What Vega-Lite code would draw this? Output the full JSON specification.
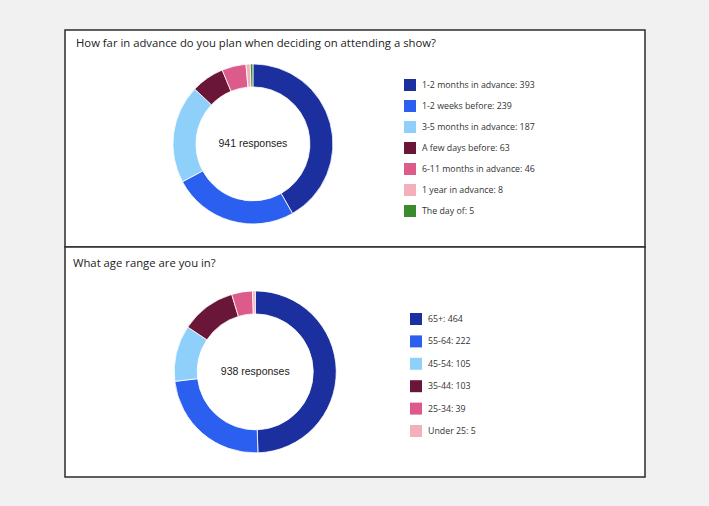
{
  "$schema": "https://vega.github.io/schema/vega-lite/v6.json",
  "background": "#f1f1f1",
  "padding": {"left": 64, "top": 29, "right": 65, "bottom": 30},
  "spacing": 0,
  "bounds": "flush",
  "resolve": {
    "scale": {"color": "independent", "x": "independent", "y": "independent"},
    "legend": {"color": "independent"}
  },
  "config": {
    "view": {"fill": "white", "stroke": "#2b2b2b", "strokeWidth": 1.5},
    "title": {
      "font": "Open Sans",
      "fontSize": 11.3,
      "fontWeight": "normal",
      "color": "#222222",
      "anchor": "start",
      "frame": "group",
      "baseline": "alphabetic"
    },
    "legend": {
      "orient": "none",
      "title": null,
      "symbolType": "square",
      "symbolSize": 144,
      "symbolStrokeWidth": 0,
      "labelFont": "Open Sans",
      "labelFontSize": 8.8,
      "labelColor": "#333333",
      "labelOffset": 6
    }
  },
  "vconcat": [
    {
      "width": 580,
      "height": 217,
      "title": {"text": "How far in advance do you plan when deciding on attending a show?", "offset": -19, "dx": 11},
      "data": {
        "values": [
          {"answer": "1-2 months in advance", "responses": 393},
          {"answer": "1-2 weeks before", "responses": 239},
          {"answer": "3-5 months in advance", "responses": 187},
          {"answer": "A few days before", "responses": 63},
          {"answer": "6-11 months in advance", "responses": 46},
          {"answer": "1 year in advance", "responses": 8},
          {"answer": "The day of", "responses": 5}
        ]
      },
      "layer": [
        {
          "transform": [{"calculate": "datum.answer + ': ' + datum.responses", "as": "legend"}],
          "mark": {"type": "arc", "outerRadius": 80, "innerRadius": 57, "stroke": "white", "strokeWidth": 0.8},
          "encoding": {
            "x": {"datum": 0.324, "type": "quantitative", "scale": {"domain": [0, 1]}, "axis": null},
            "y": {"datum": 0.475, "type": "quantitative", "scale": {"domain": [0, 1]}, "axis": null},
            "theta": {"field": "responses", "type": "quantitative", "stack": true},
            "order": {"field": "responses", "sort": "descending"},
            "color": {
              "field": "legend",
              "type": "nominal",
              "sort": null,
              "scale": {"range": ["#1b2f9f", "#2b5ff0", "#8fd0fb", "#6a1638", "#dd5b8a", "#f3b0bc", "#3a8a2e"]},
              "legend": {"legendX": 339, "legendY": 49, "rowPadding": 9}
            }
          }
        },
        {
          "transform": [
            {"aggregate": [{"op": "sum", "field": "responses", "as": "total"}]},
            {"calculate": "datum.total + ' responses'", "as": "centre"}
          ],
          "mark": {"type": "text", "font": "Liberation Sans", "fontSize": 10.5, "color": "#222222"},
          "encoding": {
            "x": {"datum": 0.324, "type": "quantitative"},
            "y": {"datum": 0.475, "type": "quantitative"},
            "text": {"field": "centre"}
          }
        }
      ]
    },
    {
      "width": 580,
      "height": 230,
      "title": {"text": "What age range are you in?", "offset": -22, "dx": 8},
      "data": {
        "values": [
          {"answer": "65+", "responses": 464},
          {"answer": "55-64", "responses": 222},
          {"answer": "45-54", "responses": 105},
          {"answer": "35-44", "responses": 103},
          {"answer": "25-34", "responses": 39},
          {"answer": "Under 25", "responses": 5}
        ]
      },
      "layer": [
        {
          "transform": [{"calculate": "datum.answer + ': ' + datum.responses", "as": "legend"}],
          "mark": {"type": "arc", "outerRadius": 81, "innerRadius": 58, "stroke": "white", "strokeWidth": 0.8},
          "encoding": {
            "x": {"datum": 0.328, "type": "quantitative", "scale": {"domain": [0, 1]}, "axis": null},
            "y": {"datum": 0.457, "type": "quantitative", "scale": {"domain": [0, 1]}, "axis": null},
            "theta": {"field": "responses", "type": "quantitative", "stack": true},
            "order": {"field": "responses", "sort": "descending"},
            "color": {
              "field": "legend",
              "type": "nominal",
              "sort": null,
              "scale": {"range": ["#1b2f9f", "#2b5ff0", "#8fd0fb", "#6a1638", "#dd5b8a", "#f3b0bc"]},
              "legend": {"legendX": 345, "legendY": 66, "rowPadding": 10.4}
            }
          }
        },
        {
          "transform": [
            {"aggregate": [{"op": "sum", "field": "responses", "as": "total"}]},
            {"calculate": "datum.total + ' responses'", "as": "centre"}
          ],
          "mark": {"type": "text", "font": "Liberation Sans", "fontSize": 10.5, "color": "#222222"},
          "encoding": {
            "x": {"datum": 0.328, "type": "quantitative"},
            "y": {"datum": 0.457, "type": "quantitative"},
            "text": {"field": "centre"}
          }
        }
      ]
    }
  ]
}
